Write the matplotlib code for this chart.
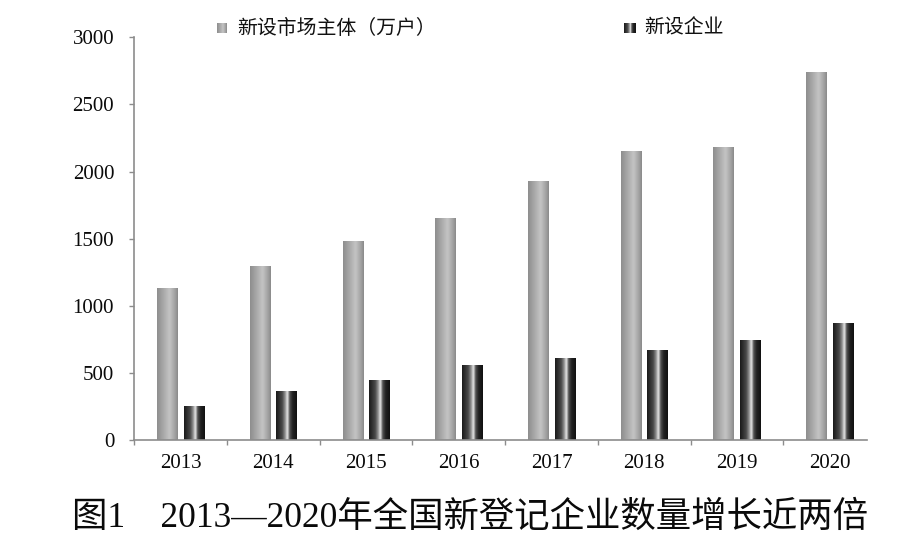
import numpy as np
import matplotlib
matplotlib.use("Agg")
import matplotlib.pyplot as plt
from matplotlib.colors import LinearSegmentedColormap

years = ["2013", "2014", "2015", "2016", "2017", "2018", "2019", "2020"]
market_entities = [1132, 1293, 1479, 1651, 1924, 2149, 2179, 2735]  # 新设市场主体（万户）
new_firms = [250, 365, 444, 553, 607, 670, 739, 869]  # 新设企业
legend_labels = ["新设市场主体（万户）", "新设企业"]
title = "图1\u30002013—2020年全国新登记企业数量增长近两倍"

SERIF = ["Liberation Serif", "Noto Sans CJK SC", "DejaVu Sans"]
CJK = ["Noto Sans CJK SC", "DejaVu Sans"]

gray_cmap = LinearSegmentedColormap.from_list(
    "gray_cyl", [(0, "#8e8e8e"), (0.3, "#a8a8a8"), (0.6, "#c4c4c4"), (0.85, "#a4a4a4"), (1, "#8a8a8a")])
black_cmap = LinearSegmentedColormap.from_list(
    "black_cyl", [(0, "#1a1a1a"), (0.3, "#4a4a4a"), (0.45, "#9a9a9a"), (0.55, "#f0f0f0"),
                  (0.65, "#555555"), (0.8, "#222222"), (1, "#111111")])
grad = np.linspace(0, 1, 64).reshape(1, -1)


def gradient_bars(ax, bars, cmap):
    for b in bars:
        x0 = b.get_x()
        w = b.get_width()
        h = b.get_height()
        ax.imshow(grad, extent=[x0, x0 + w, 0, h], aspect="auto", cmap=cmap,
                  interpolation="bicubic", zorder=2)


fig = plt.figure(figsize=(9.14, 5.48), dpi=100)
ax = fig.add_axes([134.3 / 914, 108 / 548, 732.4 / 914, 402.7 / 548])

x = np.arange(len(years))
bw = 0.22
off = 0.143
b1 = ax.bar(x - off, market_entities, bw, color="none", edgecolor="none")
b2 = ax.bar(x + off, new_firms, bw, color="none", edgecolor="none")
gradient_bars(ax, b1, gray_cmap)
gradient_bars(ax, b2, black_cmap)

ax.set_xlim(-0.5, 7.4)
ax.set_ylim(0, 3000)
ax.set_aspect("auto")

axis_gray = "#8c8c8c"
for s in ["top", "right"]:
    ax.spines[s].set_visible(False)
for s in ["left", "bottom"]:
    ax.spines[s].set_color(axis_gray)
    ax.spines[s].set_linewidth(1.2)

ax.set_yticks(np.arange(0, 3001, 500))
ax.set_yticklabels([str(v) for v in range(0, 3001, 500)], fontfamily=SERIF, fontsize=15)
ax.tick_params(axis="y", direction="out", length=3.5, width=1, color=axis_gray, pad=11, labelcolor="#0a0a0a")

ax.set_xticks(np.arange(-0.5, 7.0, 1.0))
ax.set_xticklabels([])
ax.tick_params(axis="x", which="major", direction="out", length=3.5, width=1, color=axis_gray)
ax.set_xticks(x, minor=True)
ax.set_xticklabels(years, minor=True, fontfamily=SERIF, fontsize=15)
ax.tick_params(axis="x", which="minor", length=0, pad=10, labelcolor="#0a0a0a")

# legend swatches and labels
sw1 = fig.add_axes([217 / 914, 1 - 33 / 548, 10 / 914, 10 / 548])
sw1.imshow(grad, aspect="auto", cmap=gray_cmap)
sw1.axis("off")
sw2 = fig.add_axes([624 / 914, 1 - 33 / 548, 12 / 914, 10 / 548])
sw2.imshow(grad, aspect="auto", cmap=black_cmap)
sw2.axis("off")
fig.text(237 / 914, 1 - 28 / 548, legend_labels[0], fontfamily=CJK, fontsize=14.3,
         va="center", ha="left", color="#111111")
fig.text(644 / 914, 1 - 28 / 548, legend_labels[1], fontfamily=CJK, fontsize=14.3,
         va="center", ha="left", color="#111111")

fig.text(470 / 914, 1 - 518 / 548, title, fontfamily=SERIF, fontsize=25.5,
         va="center", ha="center", color="#0a0a0a")

fig.savefig("out.png", dpi=100)
